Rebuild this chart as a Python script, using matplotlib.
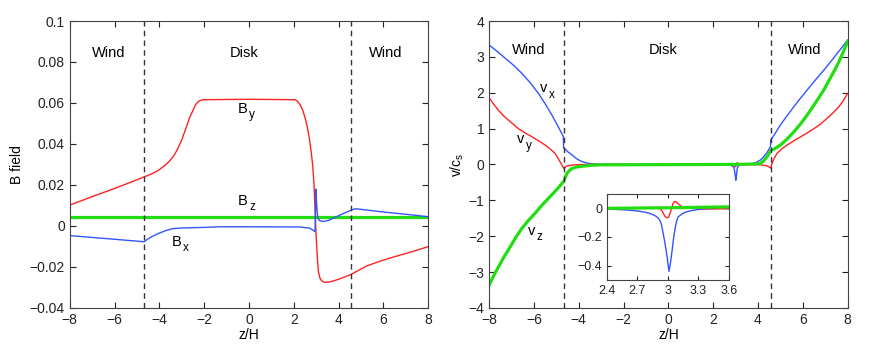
import matplotlib
matplotlib.use('Agg')
import matplotlib.pyplot as plt

plt.rcParams['font.family'] = ['Liberation Sans', 'DejaVu Sans']
plt.rcParams['mathtext.fontset'] = 'custom'
plt.rcParams['mathtext.rm'] = 'Liberation Sans'
plt.rcParams['mathtext.it'] = 'Liberation Sans'
plt.rcParams['mathtext.default'] = 'regular'
plt.rcParams['font.size'] = 10

RED = '#ff2222'
BLUE = '#3355ff'
GREEN = '#22dd11'

# wind / disk boundaries
z_base = [-4.67, 4.57]

# ---- left panel: magnetic field ----
z_by = [-8, -7, -6, -5, -4.67, -4.5, -4.28, -4.05, -3.83, -3.6, -3.38, -3.2, -3.0, -2.9,
        -2.79, -2.65, -2.49, -2.38, -2.27, -2.15, -2.05, 0, 2.05, 2.15, 2.28, 2.4, 2.5,
        2.6, 2.7, 2.78, 2.85, 2.9, 2.95, 3.0, 3.05, 3.1, 3.17, 3.25, 3.35, 3.47, 3.6, 3.8,
        4.0, 4.3, 4.57, 4.8, 5.26, 5.85, 6.5, 7.2, 8]
by = [0.0102, 0.0143, 0.0183, 0.0225, 0.0240, 0.0247, 0.0257, 0.0271, 0.0289, 0.0310,
      0.0338, 0.0372, 0.0420, 0.0450, 0.0484, 0.0528, 0.0566, 0.0592, 0.0606, 0.0613,
      0.0616, 0.0618, 0.0616, 0.0610, 0.0592, 0.0565, 0.0530, 0.0485, 0.0425, 0.0360,
      0.0290, 0.0210, 0.0080, -0.0050, -0.0150, -0.0223, -0.0255, -0.0268, -0.0274,
      -0.0275, -0.0273, -0.0267, -0.0260, -0.0248, -0.0236, -0.0222, -0.0195, -0.0172,
      -0.0150, -0.0128, -0.0101]

z_bx = [-8, -6, -4.67, -4.55, -4.3, -4.0, -3.7, -3.4, -3.0, -2.0, -1.3, 0, 2.28, 2.73,
        2.95, 2.99, 3.02, 3.05, 3.09, 3.15, 3.32, 3.55, 3.77, 4.0, 4.3, 4.57, 4.7, 4.85,
        5.85, 7, 8]
bx = [-0.0047, -0.0065, -0.0077, -0.0066, -0.0050, -0.0035, -0.0022, -0.0013, -0.0010,
      -0.0007, -0.0004, -0.0004, -0.0005, -0.0011, -0.0028, 0.0180, 0.0110, 0.0060,
      0.0035, 0.0026, 0.0022, 0.0027, 0.0038, 0.0050, 0.0065, 0.0077, 0.0083, 0.0083,
      0.0070, 0.0057, 0.0045]

z_bz = [-8, 8]
bz = [0.0043, 0.0043]

# ---- right panel: velocities ----
z_vx = [-8, -7.64, -7.28, -6.9, -6.54, -6.17, -5.8, -5.5, -5.2, -4.95, -4.69, -4.68, -4.5,
        -4.3, -4.1, -3.86, -3.6, -3.4, -3.0, 2.4, 2.5, 2.6, 2.68, 2.76, 2.82, 2.87, 2.9,
        2.92, 2.935, 2.95, 2.97, 2.99, 3.01, 3.025, 3.04, 3.055, 3.07, 3.085, 3.10, 3.14,
        3.18, 3.24, 3.30, 3.4, 3.5, 3.66, 3.9, 4.11, 4.25, 4.41, 4.56, 4.57, 4.8, 5.0, 5.3,
        5.6, 5.9, 6.2, 6.57, 6.94, 7.24, 7.54, 7.77, 8]
vx = [3.33, 3.15, 2.96, 2.76, 2.54, 2.28, 1.98, 1.69, 1.38, 1.09, 0.78, 0.47, 0.36,
      0.265, 0.16, 0.08, 0.035, 0.015, 0.005, -0.005, -0.008, -0.012, -0.017, -0.025,
      -0.035, -0.05, -0.065, -0.083, -0.11, -0.163, -0.24, -0.33, -0.44, -0.38, -0.30,
      -0.21, -0.14, -0.09, -0.06, -0.038, -0.025, -0.014, -0.008, -0.004, -0.001, 0.01,
      0.05, 0.125, 0.21, 0.34, 0.5, 0.68, 0.9, 1.1, 1.36, 1.61, 1.85, 2.08, 2.36, 2.63,
      2.86, 3.1, 3.28, 3.47]

z_vy = [-8, -7.8, -7.6, -7.38, -7.15, -6.9, -6.7, -6.4, -6.1, -5.8, -5.5, -5.27, -5.06,
        -4.95, -4.84, -4.75, -4.67, -4.6, -4.47, -4.2, -3.8, 2.4, 2.9, 2.93, 2.95, 2.97,
        2.99, 3.005, 3.02, 3.036, 3.05, 3.065, 3.08, 3.1, 3.13, 3.17, 3.25, 3.4, 3.6, 4.11,
        4.3, 4.45, 4.56, 4.6, 4.63, 4.72, 4.85, 5.05, 5.3, 5.6, 5.9, 6.2, 6.5, 6.8, 7.09,
        7.35, 7.61, 7.8, 8]
vy = [1.86, 1.68, 1.52, 1.37, 1.24, 1.11, 1.0, 0.88, 0.775, 0.66, 0.54, 0.43, 0.31,
      0.2, 0.08, -0.02, -0.106, -0.07, -0.03, -0.01, 0.0, 0.0, 0.0, -0.005, -0.03,
      -0.055, -0.066, -0.063, -0.035, 0.0, 0.035, 0.048, 0.045, 0.032, 0.015, 0.004,
      0.0, -0.003, -0.004, -0.01, -0.025, -0.05, -0.1, -0.03, 0.03, 0.17, 0.31, 0.43,
      0.54, 0.66, 0.77, 0.88, 1.0, 1.13, 1.29, 1.44, 1.61, 1.77, 1.98]

z_vz = [-8, -7.8, -7.58, -7.36, -7.14, -6.84, -6.54, -6.25, -5.95, -5.65, -5.35, -5.0,
        -4.68, -4.6, -4.53, -4.42, -4.3, -4.1, -3.86, -3.4, -3.0, 2.4, 3.0, 3.6, 3.8,
        3.95, 4.11, 4.25, 4.41, 4.57, 4.8, 5.0, 5.3, 5.6, 5.9, 6.2, 6.57, 6.94, 7.24,
        7.54, 7.77, 8]
vz = [-3.36, -3.1, -2.85, -2.6, -2.38, -2.06, -1.78, -1.56, -1.36, -1.14, -0.94, -0.71,
      -0.48, -0.36, -0.25, -0.17, -0.11, -0.07, -0.05, -0.02, -0.01, 0.0, 0.004, 0.01,
      0.012, 0.02, 0.03, 0.1, 0.22, 0.38, 0.46, 0.54, 0.71, 0.91, 1.13, 1.38, 1.72, 2.08,
      2.42, 2.77, 3.08, 3.42]

xticks = [-8, -6, -4, -2, 0, 2, 4, 6, 8]
inset_xticks = [2.4, 2.7, 3, 3.3, 3.6]
inset_yticks = [0, -0.2, -0.4]


def style_axes(ax, size=10):
    ax.tick_params(direction='in', top=True, right=True, length=4.5, width=0.8,
                   labelsize=size, colors='#222222')
    for s in ax.spines.values():
        s.set_color('#444444')
        s.set_linewidth(0.8)


def sub_label(ax, x, y, main, sub, dx):
    # letter with a low, small subscript as in the original figure
    ax.text(x, y, main, ha='left', va='baseline', fontsize=10.5)
    ax.annotate(sub, xy=(x, y), xytext=(dx, -3.8), textcoords='offset points',
                ha='left', va='baseline', fontsize=8.5)


fig = plt.figure(figsize=(8.72, 3.56), dpi=100)

# left panel
ax1 = fig.add_axes([0.080, 0.135, 0.411, 0.806])
ax1.plot(z_bz, bz, color=GREEN, lw=2.3)
ax1.plot(z_by, by, color=RED, lw=1.0)
ax1.plot(z_bx, bx, color=BLUE, lw=1.0)
for zb in z_base:
    ax1.axvline(zb, color='#333333', lw=1.0, ls=(0, (4, 3)))
ax1.set_xlim(-8, 8)
ax1.set_ylim(-0.04, 0.1)
ax1.set_xticks(xticks)
ax1.set_xticklabels([str(t).replace('-', '\u2212') for t in xticks])
ax1.set_yticks([-0.04, -0.02, 0, 0.02, 0.04, 0.06, 0.08, 0.1])
ax1.set_yticklabels(['\u22120.04', '\u22120.02', '0', '0.02', '0.04', '0.06', '0.08', '0.1'])
ax1.set_xlabel('z/H', labelpad=1)
ax1.set_ylabel('B field', labelpad=4)
style_axes(ax1)
ax1.text(-6.25, 0.0845, 'Wind', ha='center', va='center', fontsize=10.5)
ax1.text(-0.2, 0.0845, 'Disk', ha='center', va='center', fontsize=10.5)
ax1.text(6.1, 0.0845, 'Wind', ha='center', va='center', fontsize=10.5)
sub_label(ax1, -0.49, 0.0553, 'B', 'y', 8.0)
sub_label(ax1, -0.48, 0.0102, 'B', 'z', 8.0)
sub_label(ax1, -3.46, -0.0098, 'B', 'x', 8.0)

# right panel
ax2 = fig.add_axes([0.561, 0.135, 0.411, 0.806])
ax2.plot(z_vx, vx, color=BLUE, lw=1.0)
ax2.plot(z_vy, vy, color=RED, lw=1.0)
ax2.plot(z_vz, vz, color=GREEN, lw=2.3)
for zb in z_base:
    ax2.axvline(zb, color='#333333', lw=1.0, ls=(0, (4, 3)))
ax2.set_xlim(-8, 8)
ax2.set_ylim(-4, 4)
ax2.set_xticks(xticks)
ax2.set_xticklabels([str(t).replace('-', '\u2212') for t in xticks])
ax2.set_yticks(range(-4, 5))
ax2.set_yticklabels([str(t).replace('-', '\u2212') for t in range(-4, 5)])
ax2.set_xlabel('z/H', labelpad=1)
ax2.set_ylabel(r'v/c$_s$', labelpad=2)
style_axes(ax2)
ax2.text(-6.25, 3.2, 'Wind', ha='center', va='center', fontsize=10.5)
ax2.text(-0.25, 3.2, 'Disk', ha='center', va='center', fontsize=10.5)
ax2.text(6.1, 3.2, 'Wind', ha='center', va='center', fontsize=10.5)
sub_label(ax2, -5.75, 2.01, 'v', 'x', 6.5)
sub_label(ax2, -6.76, 0.59, 'v', 'y', 6.5)
sub_label(ax2, -6.29, -1.965, 'v', 'z', 6.5)

# inset zoom around the spike
ax3 = fig.add_axes([0.696, 0.2135, 0.140, 0.2416])
ax3.plot(z_vx, vx, color=BLUE, lw=1.0)
ax3.plot(z_vy, vy, color=RED, lw=1.0)
ax3.plot(z_vz, vz, color=GREEN, lw=2.3)
ax3.set_xlim(2.4, 3.6)
ax3.set_ylim(-0.5, 0.1)
ax3.set_xticks(inset_xticks)
ax3.set_xticklabels(['2.4', '2.7', '3', '3.3', '3.6'])
ax3.set_yticks(inset_yticks)
ax3.set_yticklabels(['0', '\u22120.2', '\u22120.4'])
style_axes(ax3, size=9)
ax3.tick_params(length=3)

fig.savefig('out.png', dpi=100)
